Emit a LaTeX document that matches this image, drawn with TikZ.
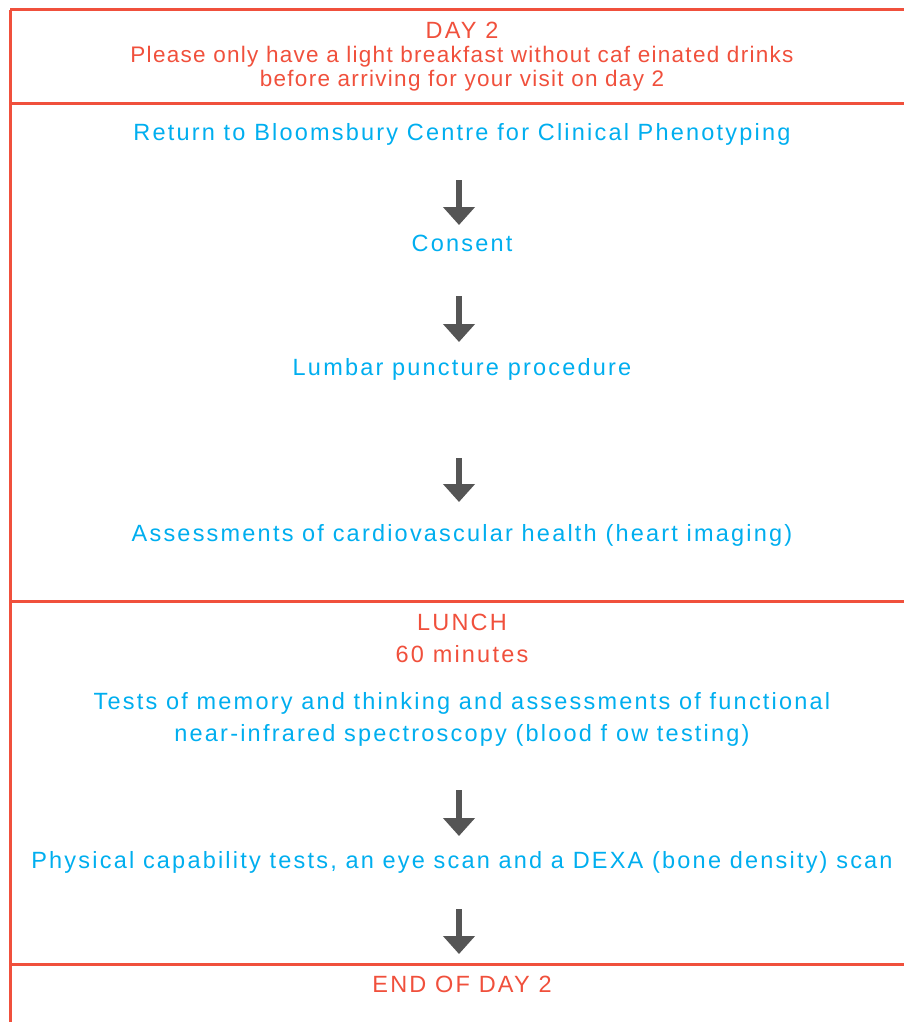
\documentclass[tikz,border=0pt]{standalone}
\usepackage{fontspec}
\setmainfont{Liberation Sans}
\newfontfamily\trackwide[LetterSpace=9.4]{Liberation Sans}
\newfontfamily\trackmid[LetterSpace=5.8]{Liberation Sans}
\usetikzlibrary{arrows.meta}
\definecolor{rulered}{RGB}{240,80,60}
\definecolor{stepblue}{RGB}{0,174,239}
\definecolor{arrowgray}{RGB}{85,85,85}
\tikzset{
  frameline/.style={draw=rulered, line width=3pt},
  redtext/.style={text=rulered, anchor=base, inner sep=0pt, font=\trackwide\fontsize{23.5}{28}\selectfont},
  noteline/.style={text=rulered, anchor=base, inner sep=0pt, font=\trackmid\fontsize{22.5}{27}\selectfont},
  bluetext/.style={text=stepblue, anchor=base, inner sep=0pt, font=\trackwide\fontsize{23.5}{28}\selectfont},
  flowarrow/.style={draw=arrowgray, line width=6pt, -{Triangle[width=31pt,length=18pt]}}
}
\begin{document}
\begin{tikzpicture}[x=1pt,y=-1pt]
\useasboundingbox (0,0) rectangle (904,1022);
% frame lines
\coordinate (tl) at (10,10);
\coordinate (bl) at (10,1022);
\draw[frameline] (tl) -- (bl);
\draw[frameline] (10,10) -- (904,10);
\draw[frameline] (10,104) -- (904,104);
\draw[frameline] (10,601) -- (904,601);
\draw[frameline] (10,964) -- (904,964);
% texts
\node[redtext] (day) at (462,39) {DAY 2};
\node[noteline] (please) at (462,63) {Please only have a light breakfast without caf einated drinks};
\node[noteline] (before) at (462,87) {before arriving for your visit on day 2};
\node[bluetext] (ret) at (462,140) {Return to Bloomsbury Centre for Clinical Phenotyping};
\node[bluetext] (cons) at (462,251) {Consent};
\node[bluetext] (lumb) at (462,375) {Lumbar puncture procedure};
\node[bluetext] (assess) at (462,541) {Assessments of cardiovascular health (heart imaging)};
\node[redtext] (lunch) at (462,630) {LUNCH};
\node[redtext] (mins) at (462,662) {60 minutes};
\node[bluetext] (tests) at (462,709) {Tests of memory and thinking and assessments of functional};
\node[bluetext] (nirs) at (462,741) {near-infrared spectroscopy (blood f ow testing)};
\node[bluetext] (phys) at (462,868) {Physical capability tests, an eye scan and a DEXA (bone density) scan};
\node[redtext] (endd) at (462,992) {END OF DAY 2};
% arrows
\coordinate (a1s) at (459,180); \coordinate (a1e) at (459,225);
\coordinate (a2s) at (459,296); \coordinate (a2e) at (459,342);
\coordinate (a3s) at (459,458); \coordinate (a3e) at (459,502);
\coordinate (a4s) at (459,790); \coordinate (a4e) at (459,836);
\coordinate (a5s) at (459,909); \coordinate (a5e) at (459,954);
\draw[flowarrow] (a1s) -- (a1e);
\draw[flowarrow] (a2s) -- (a2e);
\draw[flowarrow] (a3s) -- (a3e);
\draw[flowarrow] (a4s) -- (a4e);
\draw[flowarrow] (a5s) -- (a5e);
\end{tikzpicture}
\end{document}
